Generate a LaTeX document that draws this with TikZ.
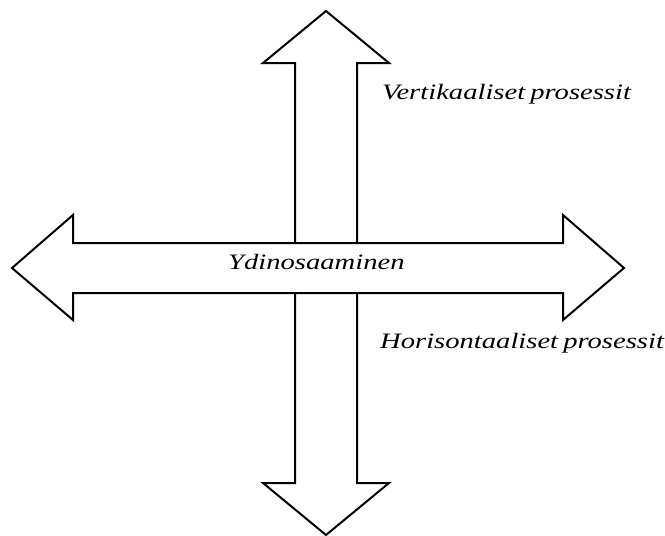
\documentclass[tikz,border=0pt]{standalone}
\usepackage{fontspec}
\newfontfamily\lblfont{Liberation Serif}[FakeStretch=1.30]
\tikzset{
    arrowline/.style={draw=black, line width=2pt, fill=white, line join=miter},
    lbl/.style={font=\lblfont\itshape\fontsize{22}{26}\selectfont, inner sep=0pt, anchor=base west}
}
\begin{document}
\begin{tikzpicture}[x=1pt, y=-1pt]
    % --- parameters (pixel grid, y downwards) ---
    \def\cx{326}      % centre of the vertical arrow
    \def\cy{268}      % centre of the horizontal arrow
    \useasboundingbox (0,0) rectangle (665,536);

    % --- vertical arrow (drawn first, the horizontal one covers it) ---
    \draw[arrowline] (\cx,11) -- (389,63) -- (357,63) -- (357,483) -- (389,483)
        -- (\cx,535) -- (263,483) -- (295,483) -- (295,63) -- (263,63) -- cycle;

    % --- horizontal arrow ---
    \draw[arrowline] (12,\cy) -- (73,215) -- (73,243) -- (563,243) -- (563,215)
        -- (624,\cy) -- (563,320) -- (563,293) -- (73,293) -- (73,320) -- cycle;

    % --- labels ---
    \node[lbl] (core) at (228,269) {Ydinosaaminen};
    \node[lbl] (vert) at (382,99) {Vertikaaliset\hspace{-2pt} prosessit};
    \node[lbl] (hori) at (380,348) {Horisontaaliset\hspace{-2pt} prosessit};
\end{tikzpicture}
\end{document}
